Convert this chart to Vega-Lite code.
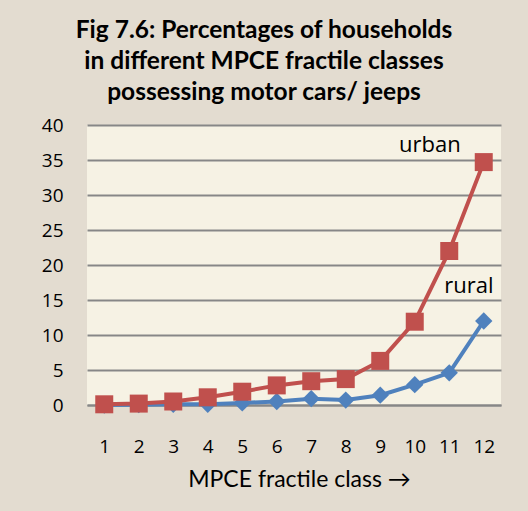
{
  "$schema": "https://vega.github.io/schema/vega-lite/v6.json",
  "width": 414,
  "height": 280,
  "autosize": "none",
  "padding": {"left": 87, "top": 125, "right": 27, "bottom": 106},
  "background": "#e3dcd0",
  "title": {
    "text": ["Fig 7.6: Percentages of households", "in different MPCE fractile classes", "possessing motor cars/ jeeps"],
    "font": "Lato",
    "fontSize": 24.5,
    "fontWeight": "bold",
    "color": "#000000",
    "lineHeight": 31,
    "anchor": "middle",
    "frame": "group",
    "dx": -30,
    "offset": 11
  },
  "config": {
    "view": {"fill": "#f6f2e4", "stroke": null},
    "font": "Open Sans"
  },
  "datasets": {
    "series": [
      {"class": 1, "area": "urban", "pct": 0.1},
      {"class": 2, "area": "urban", "pct": 0.2},
      {"class": 3, "area": "urban", "pct": 0.5},
      {"class": 4, "area": "urban", "pct": 1.1},
      {"class": 5, "area": "urban", "pct": 1.9},
      {"class": 6, "area": "urban", "pct": 2.8},
      {"class": 7, "area": "urban", "pct": 3.4},
      {"class": 8, "area": "urban", "pct": 3.7},
      {"class": 9, "area": "urban", "pct": 6.3},
      {"class": 10, "area": "urban", "pct": 11.9},
      {"class": 11, "area": "urban", "pct": 22.0},
      {"class": 12, "area": "urban", "pct": 34.7},
      {"class": 1, "area": "rural", "pct": 0.0},
      {"class": 2, "area": "rural", "pct": 0.05},
      {"class": 3, "area": "rural", "pct": 0.1},
      {"class": 4, "area": "rural", "pct": 0.1},
      {"class": 5, "area": "rural", "pct": 0.3},
      {"class": 6, "area": "rural", "pct": 0.5},
      {"class": 7, "area": "rural", "pct": 0.9},
      {"class": 8, "area": "rural", "pct": 0.7},
      {"class": 9, "area": "rural", "pct": 1.4},
      {"class": 10, "area": "rural", "pct": 2.9},
      {"class": 11, "area": "rural", "pct": 4.6},
      {"class": 12, "area": "rural", "pct": 12.0}
    ],
    "labels": [
      {"label": "urban", "lx": 10.44, "ly": 37.1},
      {"label": "rural", "lx": 11.57, "ly": 17.0}
    ]
  },
  "encoding": {
    "x": {
      "type": "quantitative",
      "scale": {"domain": [0.5, 12.5], "nice": false},
      "axis": {
        "values": [1,2,3,4,5,6,7,8,9,10,11,12],
        "labelOverlap": false,
        "grid": false, "ticks": false, "domain": true,
        "domainColor": "#878787", "domainWidth": 2,
        "labelFontSize": 19, "labelColor": "#000000", "labelPadding": 32,
        "labelFont": "Open Sans",
        "title": "MPCE fractile class →",
        "titleFontSize": 23, "titleFontWeight": "normal", "titleColor": "#000000",
        "titleFont": "Lato", "titlePadding": 12, "titleX": 212
      }
    },
    "y": {
      "type": "quantitative",
      "scale": {"domain": [0, 40], "nice": false},
      "axis": {
        "values": [0,5,10,15,20,25,30,35,40],
        "labelOverlap": false,
        "grid": true, "gridColor": "#878787", "gridWidth": 2,
        "ticks": false, "domain": false,
        "labelFontSize": 19, "labelColor": "#000000", "labelPadding": 24,
        "labelFont": "Open Sans",
        "title": null
      }
    }
  },
  "layer": [
    {
      "data": {"name": "series"},
      "transform": [{"filter": "datum.area === 'rural'"}],
      "mark": {"type": "line", "color": "#4f81bd", "strokeWidth": 4, "point": {"shape": "diamond", "size": 300, "filled": true, "color": "#4f81bd", "opacity": 1}},
      "encoding": {
        "x": {"field": "class"},
        "y": {"field": "pct"}
      }
    },
    {
      "data": {"name": "series"},
      "transform": [{"filter": "datum.area === 'urban'"}],
      "mark": {"type": "line", "color": "#c0504d", "strokeWidth": 4, "point": {"shape": "square", "size": 324, "filled": true, "color": "#c0504d", "opacity": 1}},
      "encoding": {
        "x": {"field": "class"},
        "y": {"field": "pct"}
      }
    },
    {
      "data": {"name": "labels"},
      "mark": {"type": "text", "font": "Open Sans", "fontSize": 22, "color": "#000000", "align": "center", "baseline": "middle"},
      "encoding": {
        "x": {"field": "lx"},
        "y": {"field": "ly"},
        "text": {"field": "label"}
      }
    }
  ]
}
